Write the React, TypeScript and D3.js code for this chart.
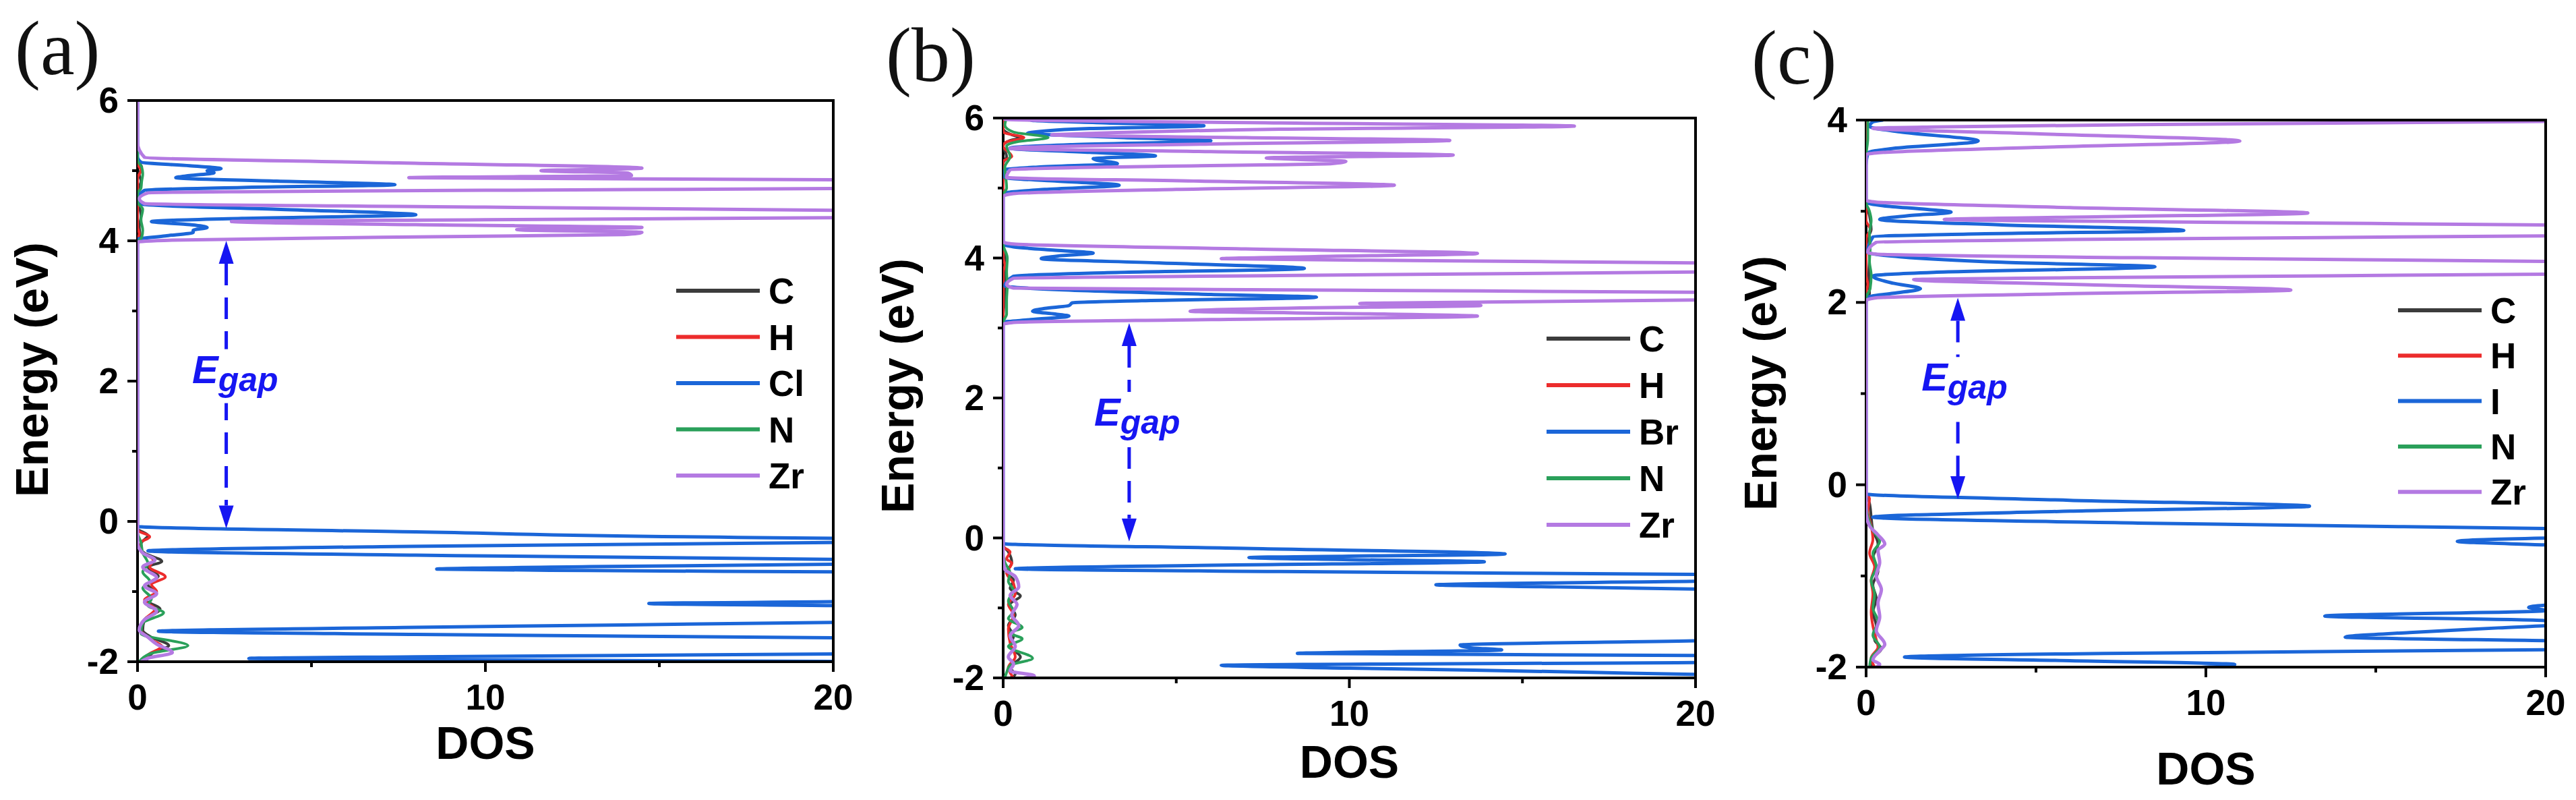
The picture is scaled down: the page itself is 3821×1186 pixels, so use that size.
import { useMemo } from "react";
import * as d3 from "d3";

const WIDTH = 3821;
const HEIGHT = 1186;
const SANS = "'Liberation Sans', Arial, Helvetica, sans-serif";
const SERIF = "'Liberation Serif', 'Times New Roman', serif";

const COLORS = { C: "#3c3c3c", H: "#ec2c2c", X: "#1b66d8", N: "#2aa05a", Zr: "#b47ae2" };
const GAP_BLUE = "#1616f2";

type Pt = [number, number]; // [energy eV, DOS]

// ---- panel (a) ----
const A_C: Pt[] = [[6,0],[5.15,0],[5.05,0.12],[4.95,0.05],[4.85,0.1],[4.7,0],[4.5,0.05],[4.35,0.1],[4.2,0.05],[4.05,0.08],[3.95,0],
  [-0.1,0],[-0.2,0.3],[-0.28,0.15],[-0.36,0.05],[-0.45,0.2],[-0.57,0.7],[-0.65,0.3],[-0.78,0.6],[-0.9,0.3],[-1.02,0.5],[-1.12,0.25],[-1.25,0.65],[-1.4,0.2],[-1.55,0.15],[-1.65,0.4],[-1.77,0.9],[-1.85,0.5],[-1.95,0.3],[-2,0.2]];
const A_H: Pt[] = [[6,0],[5.1,0],[5.0,0.1],[4.9,0],[4.2,0],[4.1,0.05],[4.0,0],
  [-0.12,0],[-0.22,0.35],[-0.3,0.1],[-0.42,0.1],[-0.55,0.45],[-0.65,0.35],[-0.79,0.8],[-0.9,0.4],[-1.0,0.55],[-1.12,0.2],[-1.25,0.5],[-1.4,0.2],[-1.55,0.1],[-1.7,0.45],[-1.78,0.7],[-1.9,0.3],[-2,0.2]];
const A_CL: Pt[] = [[6,0],[5.2,0],[5.12,0.1],[5.07,1.5],[5.03,2.4],[5.0,2.0],[4.97,2.2],[4.93,1.5],[4.9,1.1],[4.85,4],[4.8,7.4],[4.76,3],[4.72,0.2],[4.6,0],[4.52,0.1],[4.45,4],[4.37,8.0],[4.32,3],[4.275,0.4],[4.23,1.5],[4.19,2.0],[4.15,1.6],[4.12,1.6],[4.07,0.8],[4.02,0],
  [0,0],[-0.07,0],[-0.15,8],[-0.24,20],[-0.27,32],[-0.3,20],[-0.36,7],[-0.42,0.3],[-0.48,8],[-0.54,20],[-0.575,32],[-0.61,20],[-0.645,13],[-0.68,8.6],[-0.7,13],[-0.72,20],[-0.8,35],[-0.95,40],[-1.1,30],[-1.145,20],[-1.17,14.7],[-1.2,20],[-1.3,35],[-1.44,20],[-1.51,8],[-1.565,0.6],[-1.61,8],[-1.66,20],[-1.75,35],[-1.89,20],[-1.93,8],[-1.955,3.2],[-1.975,10],[-2.0,22]];
const A_N: Pt[] = [[6,0],[5.15,0],[5.05,0.12],[4.95,0.15],[4.85,0.12],[4.75,0.1],[4.68,0],[4.55,0],[4.45,0.15],[4.3,0.1],[4.15,0.15],[4.05,0.12],[3.97,0],
  [-0.15,0],[-0.3,0.1],[-0.45,0.15],[-0.6,0.3],[-0.72,0.15],[-0.85,0.35],[-0.95,0.15],[-1.1,0.4],[-1.2,0.3],[-1.3,0.75],[-1.45,0.15],[-1.6,0.1],[-1.77,1.45],[-1.88,0.4],[-1.97,0.1],[-2,0.05]];
const A_ZR: Pt[] = [[6,0],[5.4,0],[5.19,0.2],[5.11,7.5],[5.035,14.5],[5.0,11.6],[4.965,14.1],[4.93,14.2],[4.9,7.8],[4.87,20],[4.81,30],[4.745,20],[4.72,10],[4.7,3],[4.685,0.3],[4.6,0.05],[4.53,0.2],[4.48,10],[4.436,20],[4.39,30],[4.33,20],[4.3,10],[4.275,2.7],[4.23,8],[4.19,14.5],[4.16,10.9],[4.12,14.5],[4.09,14.0],[4.05,7],[4.01,1],[3.98,0],
  [0,0],[-0.3,0],[-0.45,0.15],[-0.55,0.5],[-0.65,0.15],[-0.8,0.55],[-0.92,0.2],[-1.03,0.55],[-1.15,0.2],[-1.28,0.55],[-1.4,0.2],[-1.55,0.05],[-1.65,0.3],[-1.75,0.55],[-1.87,1.0],[-1.95,0.3],[-2,0.1]];

// ---- panel (b) ----
const B_C: Pt[] = [[6,0],[5.85,0],[5.76,0.25],[5.72,0.5],[5.68,0.2],[5.6,0],[5.45,0.1],[5.35,0],[4.2,0],[3.9,0.08],[3.5,0.05],[3.1,0],
  [-0.1,0],[-0.2,0.15],[-0.35,0.25],[-0.5,0.1],[-0.6,0.3],[-0.72,0.2],[-0.83,0.5],[-0.95,0.2],[-1.1,0.35],[-1.25,0.15],[-1.4,0.3],[-1.55,0.2],[-1.7,0.5],[-1.85,0.2],[-1.95,0.35],[-2,0.2]];
const B_H: Pt[] = [[6,0],[5.8,0],[5.72,0.6],[5.66,0.1],[5.6,0],[5.45,0.25],[5.38,0],[4.0,0],[3.9,0.05],[3.8,0],
  [-0.12,0],[-0.2,0.2],[-0.3,0.1],[-0.36,0.25],[-0.5,0.1],[-0.65,0.3],[-0.8,0.35],[-0.95,0.15],[-1.1,0.3],[-1.3,0.15],[-1.5,0.2],[-1.7,0.35],[-1.85,0.15],[-2,0.3]];
const B_BR: Pt[] = [[6,1.2],[5.97,0.8],[5.93,3],[5.89,5.8],[5.85,2.5],[5.8,0.9],[5.78,0.7],[5.76,1.4],[5.72,3.5],[5.675,6.0],[5.62,2],[5.57,0.2],[5.51,2.5],[5.46,4.4],[5.42,2.6],[5.4,2.7],[5.35,3.3],[5.3,1],[5.26,0.05],[5.15,0.05],[5.1,1.5],[5.04,3.35],[4.98,1.2],[4.92,0],
  [4.2,0],[4.16,0.3],[4.11,1.5],[4.07,2.6],[4.03,1.6],[3.99,1.1],[3.93,4.5],[3.85,8.7],[3.79,3],[3.74,0.3],[3.6,0.05],[3.55,1.5],[3.48,6],[3.44,9.05],[3.39,4],[3.36,2.0],[3.32,1.9],[3.28,1.2],[3.24,0.85],[3.2,1.5],[3.17,1.9],[3.12,0.8],[3.08,0],
  [0,0],[-0.08,0],[-0.15,7],[-0.23,14.5],[-0.26,10],[-0.28,7.1],[-0.31,10],[-0.34,13.9],[-0.39,6],[-0.44,0.35],[-0.48,8],[-0.52,20],[-0.56,30],[-0.62,20],[-0.67,12.5],[-0.7,16],[-0.73,20],[-0.9,40],[-1.2,40],[-1.47,20],[-1.53,13.2],[-1.57,13.5],[-1.6,14.4],[-1.65,8.5],[-1.68,20],[-1.73,30],[-1.78,20],[-1.82,6.3],[-1.86,10],[-1.89,13.6],[-1.92,17],[-1.95,20],[-2.0,30]];
const B_N: Pt[] = [[6,0.1],[5.9,0.05],[5.8,0.3],[5.72,1.3],[5.66,0.4],[5.6,0.1],[5.45,0.2],[5.3,0.05],[5.0,0.1],[4.9,0],[4.2,0],[4.0,0.12],[3.8,0.1],[3.6,0.12],[3.4,0.1],[3.2,0.1],[3.08,0],
  [-0.2,0],[-0.35,0.05],[-0.5,0.2],[-0.62,0.15],[-0.75,0.3],[-0.9,0.15],[-1.05,0.3],[-1.15,0.15],[-1.28,0.55],[-1.36,0.2],[-1.44,0.55],[-1.55,0.15],[-1.72,0.85],[-1.82,0.2],[-1.92,0.1],[-2,0.05]];
const B_ZR: Pt[] = [[6,0],[5.98,0.1],[5.93,8],[5.885,16.5],[5.84,8],[5.78,2.5],[5.76,1.4],[5.72,7],[5.68,12.9],[5.63,6],[5.58,0.5],[5.565,0.2],[5.52,6],[5.47,13.0],[5.43,7.6],[5.41,8.5],[5.38,9.9],[5.35,9.5],[5.3,3],[5.26,0.2],[5.15,0.1],[5.1,5.5],[5.04,11.3],[4.98,5],[4.92,0.3],[4.88,0],
  [4.23,0],[4.2,0.3],[4.13,7],[4.065,13.7],[4.02,9],[3.99,6.3],[3.96,13],[3.93,20],[3.86,32],[3.8,20],[3.75,8],[3.71,0.3],[3.62,0.1],[3.57,0.3],[3.54,10],[3.51,20],[3.45,32],[3.4,20],[3.37,14],[3.35,10.3],[3.32,13.8],[3.29,9],[3.24,5.4],[3.2,11],[3.17,13.7],[3.12,6],[3.08,0.3],[3.05,0],
  [0,0],[-0.3,0],[-0.45,0.05],[-0.55,0.35],[-0.7,0.45],[-0.82,0.2],[-0.95,0.4],[-1.1,0.25],[-1.25,0.45],[-1.4,0.2],[-1.55,0.35],[-1.7,0.15],[-1.8,0.3],[-1.9,0.2],[-1.97,0.9],[-2,0.6]];

// ---- panel (c) ----
const C_C: Pt[] = [[4,0],[3.1,0],[2.95,0.1],[2.8,0.15],[2.7,0.05],[2.5,0.1],[2.3,0.08],[2.1,0.1],[2.0,0],
  [-0.1,0],[-0.2,0.1],[-0.35,0.15],[-0.5,0.2],[-0.65,0.35],[-0.8,0.2],[-0.95,0.35],[-1.1,0.2],[-1.25,0.3],[-1.4,0.2],[-1.55,0.3],[-1.7,0.25],[-1.8,0.45],[-1.9,0.2],[-2,0.15]];
const C_H: Pt[] = [[4,0],[2.9,0],[2.8,0.12],[2.7,0],[2.3,0],[2.2,0.05],[2.1,0],
  [-0.08,0],[-0.15,0.1],[-0.3,0.05],[-0.45,0.15],[-0.6,0.2],[-0.75,0.1],[-0.9,0.25],[-1.05,0.15],[-1.2,0.2],[-1.4,0.15],[-1.55,0.2],[-1.7,0.3],[-1.78,0.35],[-1.9,0.15],[-2,0.25]];
const C_I: Pt[] = [[4,0.5],[3.98,0.2],[3.93,0.1],[3.87,1],[3.77,3.3],[3.69,0.8],[3.64,0.05],[3.5,0],
  [3.1,0],[3.06,0.5],[3.02,1.8],[2.99,2.5],[2.95,1.2],[2.91,0.4],[2.85,4],[2.79,9.35],[2.75,3],[2.72,0.2],[2.55,0.05],[2.5,1],[2.44,4],[2.39,8.5],[2.33,2],[2.29,0.2],[2.21,0.8],[2.15,1.6],[2.1,0.8],[2.06,0.05],[2.0,0],
  [0,0],[-0.1,0],[-0.17,6],[-0.235,13.05],[-0.29,6],[-0.355,0.2],[-0.42,8],[-0.48,20],[-0.53,30],[-0.585,20],[-0.62,17.4],[-0.66,20],[-0.9,40],[-1.2,40],[-1.32,20],[-1.345,19.5],[-1.38,20],[-1.44,13.5],[-1.49,20],[-1.53,20.5],[-1.57,18.6],[-1.62,16],[-1.67,14.1],[-1.71,20],[-1.76,30],[-1.81,20],[-1.85,7],[-1.89,1.13],[-1.93,6],[-1.97,10.85],[-2.02,9]];
const C_N: Pt[] = [[4,0.05],[3.8,0.05],[3.6,0],[3.1,0],[3.0,0.1],[2.9,0.15],[2.75,0.1],[2.6,0.12],[2.45,0.1],[2.3,0.15],[2.15,0.12],[2.05,0],
  [-0.2,0],[-0.35,0.05],[-0.5,0.2],[-0.62,0.4],[-0.75,0.2],[-0.9,0.3],[-1.05,0.15],[-1.2,0.25],[-1.35,0.2],[-1.5,0.35],[-1.65,0.2],[-1.78,0.4],[-1.9,0.15],[-2,0.1]];
const C_ZR: Pt[] = [[4.0,26],[3.985,20],[3.95,8],[3.925,2],[3.91,0.2],[3.85,5],[3.77,11.0],[3.7,5],[3.64,0.3],[3.62,0],
  [3.12,0],[3.1,0.3],[3.04,6],[2.98,13.0],[2.94,7],[2.91,2.3],[2.88,10],[2.85,20],[2.79,32],[2.73,20],[2.69,6],[2.66,0.3],[2.55,0.05],[2.53,0.3],[2.49,8],[2.45,20],[2.38,35],[2.31,20],[2.27,6],[2.25,1.4],[2.19,7],[2.136,12.5],[2.09,5],[2.05,0.3],[2.02,0],
  [0,0],[-0.3,0],[-0.45,0.1],[-0.55,0.35],[-0.65,0.55],[-0.72,0.35],[-0.85,0.4],[-1.0,0.3],[-1.15,0.45],[-1.3,0.35],[-1.45,0.4],[-1.6,0.3],[-1.75,0.55],[-1.82,0.4],[-1.92,0.2],[-1.97,0.4],[-2,0.3]];

const DOS_DOMAIN = [0, 20];
const DOS_MAJOR = [0, 10, 20];
const DOS_MINOR = [5, 15];

const PANELS = [
  {
    key: "a", label: "(a)", labelPos: [22, 110],
    frame: { left: 204, right: 1236, top: 149, bottom: 981 },
    yDomain: [-2, 6], yMajor: [-2, 0, 2, 4, 6], yMinor: [-1, 1, 3, 5],
    names: ["C", "H", "Cl", "N", "Zr"], series: [A_C, A_H, A_CL, A_N, A_ZR],
    legend: { x: 1003, y: 431, step: 68.5 },
    gap: { dos: 2.55, top: 4.0, bottom: -0.1, textDos: 1.57, textE: 2.09 },
    titleY: 1125, energyY: 548,
  },
  {
    key: "b", label: "(b)", labelPos: [1314, 120],
    frame: { left: 1488, right: 2515, top: 175, bottom: 1005 },
    yDomain: [-2, 6], yMajor: [-2, 0, 2, 4, 6], yMinor: [-1, 1, 3, 5],
    names: ["C", "H", "Br", "N", "Zr"], series: [B_C, B_H, B_BR, B_N, B_ZR],
    legend: { x: 2294, y: 502, step: 69 },
    gap: { dos: 3.64, top: 3.07, bottom: -0.05, textDos: 2.63, textE: 1.72 },
    titleY: 1153, energyY: 572,
  },
  {
    key: "c", label: "(c)", labelPos: [2598, 124],
    frame: { left: 2768, right: 3776, top: 178, bottom: 989 },
    yDomain: [-2, 4], yMajor: [-2, 0, 2, 4], yMinor: [-1, 1, 3],
    names: ["C", "H", "I", "N", "Zr"], series: [C_C, C_H, C_I, C_N, C_ZR],
    legend: { x: 3557, y: 460, step: 67.3 },
    gap: { dos: 2.7, top: 2.05, bottom: -0.157, textDos: 1.63, textE: 1.12 },
    titleY: 1163, energyY: 568,
  },
];

const SERIES_COLORS = [COLORS.C, COLORS.H, COLORS.X, COLORS.N, COLORS.Zr];
const SERIES_WIDTHS = [4, 4, 5, 4, 5];

function Panel({ p }) {
  const { left, right, top, bottom } = p.frame;
  const x = useMemo(() => d3.scaleLinear().domain(DOS_DOMAIN).range([left, right]), [left, right]);
  const y = useMemo(() => d3.scaleLinear().domain(p.yDomain).range([bottom, top]), [p.yDomain, bottom, top]);

  const paths = useMemo(() => {
    const line = d3
      .line<Pt>()
      .x((d) => x(d[1]))
      .y((d) => y(d[0]))
      .curve(d3.curveMonotoneY);
    return p.series.map((s) => line(s) || "");
  }, [p.series, x, y]);

  const gx = x(p.gap.dos);
  const gTop = y(p.gap.top);
  const gBot = y(p.gap.bottom);
  const head = 34;
  const tx = x(p.gap.textDos);
  const ty = y(p.gap.textE);
  const clipId = `clip-${p.key}`;

  return (
    <g>
      <defs>
        <clipPath id={clipId}>
          <rect x={left} y={top + 2} width={right - left - 2} height={bottom - top - 4} />
        </clipPath>
      </defs>

      {/* panel label */}
      <text x={p.labelPos[0]} y={p.labelPos[1]} fontFamily={SERIF} fontSize={114} fill="#111">
        {p.label}
      </text>

      {/* frame */}
      <rect x={left} y={top} width={right - left} height={bottom - top} fill="none" stroke="#000" strokeWidth={4} />

      {/* y ticks */}
      {p.yMajor.map((t) => (
        <g key={`ym-${t}`}>
          <line x1={left - 15} x2={left} y1={y(t)} y2={y(t)} stroke="#000" strokeWidth={4} />
          <text x={left - 28} y={y(t) + 18} textAnchor="end" fontFamily={SANS} fontWeight="bold" fontSize={53}>
            {t}
          </text>
        </g>
      ))}
      {p.yMinor.map((t) => (
        <line key={`yn-${t}`} x1={left - 8} x2={left} y1={y(t)} y2={y(t)} stroke="#000" strokeWidth={4} />
      ))}

      {/* x ticks */}
      {DOS_MAJOR.map((t) => (
        <g key={`xm-${t}`}>
          <line x1={x(t)} x2={x(t)} y1={bottom} y2={bottom + 15} stroke="#000" strokeWidth={4} />
          <text x={x(t)} y={bottom + 71} textAnchor="middle" fontFamily={SANS} fontWeight="bold" fontSize={53}>
            {t}
          </text>
        </g>
      ))}
      {DOS_MINOR.map((t) => (
        <line key={`xn-${t}`} x1={x(t)} x2={x(t)} y1={bottom} y2={bottom + 8} stroke="#000" strokeWidth={4} />
      ))}

      {/* axis titles */}
      <text x={(left + right) / 2} y={p.titleY} textAnchor="middle" fontFamily={SANS} fontWeight="bold" fontSize={68}>
        DOS
      </text>
      <text
        transform={`translate(${left - 133} ${p.energyY}) rotate(-90)`}
        textAnchor="middle"
        fontFamily={SANS}
        fontWeight="bold"
        fontSize={68}
      >
        Energy (eV)
      </text>

      {/* DOS curves */}
      <g clipPath={`url(#${clipId})`}>
        {paths.map((d, i) => (
          <path
            key={p.names[i]}
            d={d}
            fill="none"
            stroke={SERIES_COLORS[i]}
            strokeWidth={SERIES_WIDTHS[i]}
            strokeLinejoin="round"
          />
        ))}
      </g>

      {/* legend */}
      {p.names.map((name, i) => {
        const ly = p.legend.y + i * p.legend.step;
        return (
          <g key={`lg-${name}`}>
            <line x1={p.legend.x} x2={p.legend.x + 124} y1={ly} y2={ly} stroke={SERIES_COLORS[i]} strokeWidth={6} />
            <text x={p.legend.x + 137} y={ly + 19} fontFamily={SANS} fontWeight="bold" fontSize={53}>
              {name}
            </text>
          </g>
        );
      })}

      {/* band gap arrow */}
      <line x1={gx} x2={gx} y1={gTop + head} y2={gBot - head} stroke={GAP_BLUE} strokeWidth={5} strokeDasharray="32 18" />
      <polygon points={`${gx},${gTop} ${gx - 11},${gTop + head} ${gx + 11},${gTop + head}`} fill={GAP_BLUE} />
      <polygon points={`${gx},${gBot} ${gx - 11},${gBot - head} ${gx + 11},${gBot - head}`} fill={GAP_BLUE} />
      <rect x={tx - 4} y={ty - 38} width={142} height={80} fill="#fff" />
      <text x={tx} y={ty + 12} fontFamily={SANS} fontWeight="bold" fontStyle="italic" fill={GAP_BLUE} fontSize={58}>
        E
        <tspan fontSize={50} dy={12}>
          gap
        </tspan>
      </text>
    </g>
  );
}

export default function App() {
  return (
    <svg
      width={WIDTH}
      height={HEIGHT}
      viewBox={`0 0 ${WIDTH} ${HEIGHT}`}
      style={{ position: "absolute", left: 0, top: 0, background: "#fff" }}
    >
      <rect width={WIDTH} height={HEIGHT} fill="#fff" />
      {PANELS.map((p) => (
        <Panel key={p.key} p={p} />
      ))}
    </svg>
  );
}
